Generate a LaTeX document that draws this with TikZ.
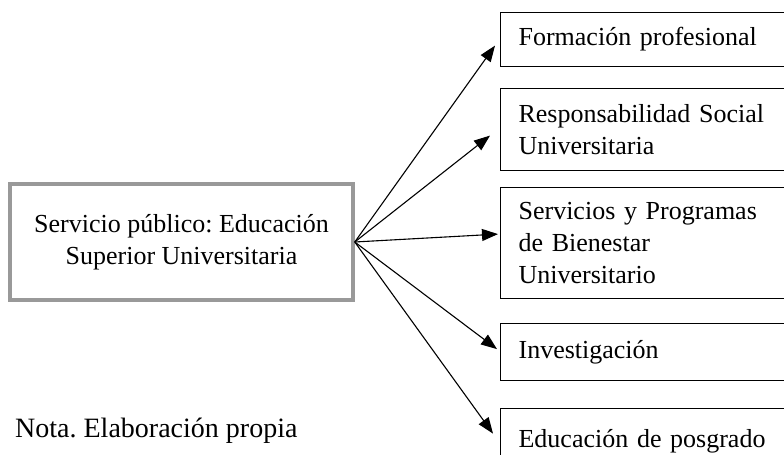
\documentclass[tikz,border=0pt]{standalone}
\usepackage{fontspec}
\setmainfont{Liberation Serif}
\usetikzlibrary{arrows.meta}
\frenchspacing
\begin{document}
\begin{tikzpicture}
      [%%%%%%%%%%%%%%%%%%%%%%%%%%%%%%
      x=1bp,y=-1bp,
      pubbox/.style={rectangle,draw=black!40,line width=3.5bp,minimum width=343bp,minimum height=116bp,align=center,font=\fontsize{26bp}{32bp}\selectfont},
      itembox/.style={rectangle,draw=black,line width=1.2bp,anchor=north west,minimum width=320bp,text width=284bp,inner xsep=18bp,align=left,font=\fontsize{26bp}{32bp}\selectfont},
      flecha/.style={-{Triangle[length=16bp,width=12bp]},line width=1.1bp},
      ]%%%%%%%%%%%%%%%%%%%%%%%%%%%%%%
      \useasboundingbox (0,0) rectangle (784,455);
      \clip (0,0) rectangle (784,455);

      \node[pubbox] (pub) at (181.5,242) {Servicio público: Educación\\Superior Universitaria};

      \node[itembox,minimum height=54bp] (fp) at (500,12) {Formación profesional};
      \node[itembox,minimum height=82bp] (rsu) at (500,88) {Responsabilidad Social\\Universitaria};
      \node[itembox,minimum height=111bp] (bien) at (500,187) {Servicios y Programas\\de Bienestar\\Universitario};
      \node[itembox,minimum height=57bp] (inv) at (500,323) {Investigación};
      \node[itembox,minimum height=66bp] (pos) at (500,408) {Educación de posgrado};

      \foreach \n/\dx/\dy in {fp/-5/-6,rsu/-10/-6,bien/-2/9,inv/-3/3,pos/-7/8}
        \draw[flecha] (pub.east) -- ([xshift=\dx bp,yshift=\dy bp]\n.west);

      \node[font=\fontsize{28bp}{34bp}\selectfont,anchor=base west,inner sep=0pt] (nota) at (15,437) {Nota. Elaboración propia};
      % \node[itembox] at (500,470) {};
    \end{tikzpicture}
\end{document}
